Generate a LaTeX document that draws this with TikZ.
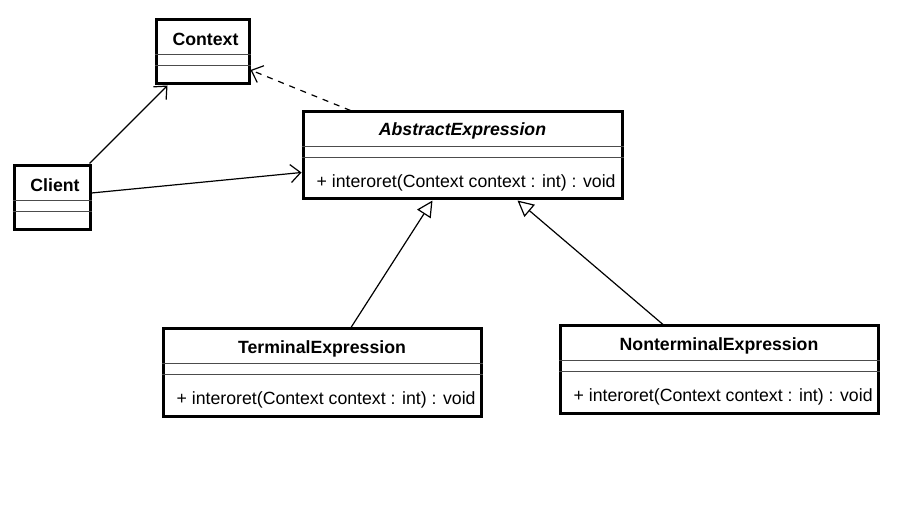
\documentclass[tikz,border=0pt]{standalone}
\usepackage{fontspec}
\setmainfont{Liberation Sans}
\usetikzlibrary{arrows.meta,positioning,calc}
\tikzset{class box/.style={draw,rectangle,line width=3pt,inner sep=0pt}, }
\tikzset{class name/.style={font=\bfseries\fontsize{17.7}{20}\selectfont,inner sep=0pt}, }
\tikzset{class op/.style={anchor=west,font=\fontsize{17.7}{20}\selectfont,inner sep=0pt}, }
\tikzset{sep line/.style={line width=1.5pt,black!70}}
\tikzset{assoc/.style={-{Straight Barb[length=10pt,width=18pt]},line width=1.2pt}}
\tikzset{depend/.style={assoc,dash pattern=on 6pt off 6pt}}
\tikzset{inherit/.style={-{Triangle[open,fill=white,length=16pt,width=16pt,line width=1.2pt]},line width=1.2pt}}

\begin{document}
\begin{tikzpicture}[x=1pt,y=-1pt]
  \useasboundingbox (0,0) rectangle (915,526);
  % classes
  \node[class box,minimum width=93pt,minimum height=64pt] (context) at (202.5,52) {};
  \node[class box,minimum width=76pt,minimum height=64pt] (client) at (52,198) {};
  \node[class box,minimum width=319pt,minimum height=87pt] (abstract) at (462.5,155.5) {};
  \node[class box,minimum width=318pt,minimum height=87pt] (terminal) at (322,372.5) {};
  \node[class box,minimum width=318pt,minimum height=87pt] (nonterminal) at (719,369.5) {};
  % names
  \node[class name] (contextname) at ([xshift=3pt,yshift=-21pt]context.north) {Context};
  \node[class name] (clientname) at ([xshift=3pt,yshift=-21pt]client.north) {Client};
  \node[class name,font=\bfseries\itshape\fontsize{17.7}{20}\selectfont] (abstractname) at ([yshift=-20pt]abstract.north) {AbstractExpression};
  \node[class name] (terminalname) at ([yshift=-21pt]terminal.north) {TerminalExpression};
  \node[class name] (nonterminalname) at ([yshift=-21pt]nonterminal.north) {NonterminalExpression};
  % compartments
  \foreach \c in {context,client,abstract,terminal,nonterminal}{
    \draw[sep line] ([yshift=-36pt]\c.north west) -- ([yshift=-36pt]\c.north east);
    \draw[sep line] ([yshift=-47pt]\c.north west) -- ([yshift=-47pt]\c.north east);
  }
  % operations
  \foreach \c in {abstract,terminal,nonterminal}
    \node[class op] (\c op) at ([xshift=15pt,yshift=-72pt]\c.north west) {+ interoret(Context context : int) : void};
  % relations
  \draw[assoc] ([xshift=-2pt,yshift=1pt]client.north east) -- ([xshift=-35pt]context.south);
  \draw[assoc] ([yshift=5pt]client.east) -- ([yshift=-17pt]abstract.west);
  \draw[depend] ([xshift=-112pt]abstract.north) -- ([yshift=-18pt]context.east);
  \draw[inherit] ([xshift=29pt]terminal.north) -- ([xshift=-30pt]abstract.south);
  \draw[inherit] ([xshift=-56pt]nonterminal.north) -- ([xshift=55pt]abstract.south);
\end{tikzpicture}
\end{document}
